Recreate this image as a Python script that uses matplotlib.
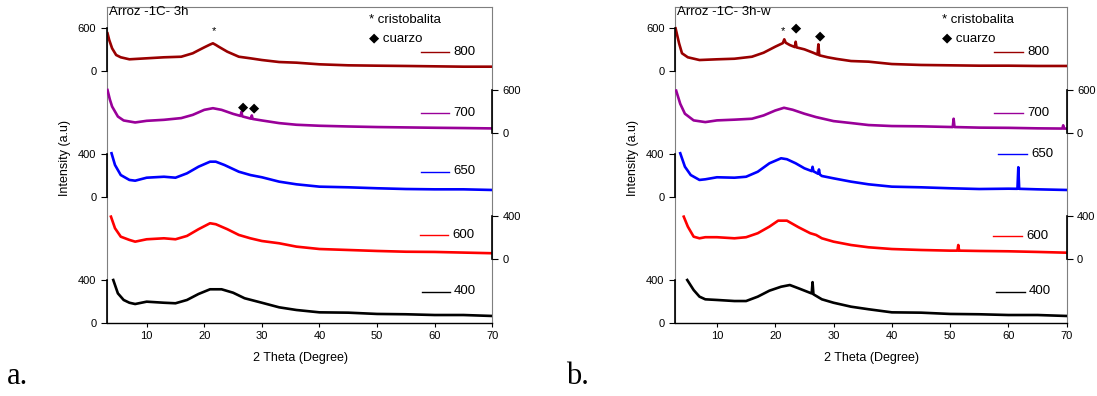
import numpy as np
import matplotlib
matplotlib.use("Agg")
import matplotlib.pyplot as plt
from matplotlib.lines import Line2D

plt.rcParams["font.family"] = ["Liberation Sans", "DejaVu Sans"]

# ---- data (2 theta in degrees, intensity in a.u.) ----
TEMPS = ["800", "700", "650", "600", "400"]
COLORS = ["#990000", "#990099", "#0000FF", "#FF0000", "#000000"]

# panel a: Arroz -1C- 3h
A800_X = [3.2, 3.5, 4.0, 4.7, 5.5, 7, 10, 13, 16, 18, 19, 20, 21, 21.5, 22, 22.5, 24, 26, 28, 30, 33, 36, 40, 45, 50, 55, 60, 65, 70]
A800_Y = [522, 428, 312, 219, 187, 159, 173, 187, 195, 243, 285, 326, 365, 382, 360, 335, 265, 195, 173, 149, 121, 112, 89, 75, 70, 66, 61, 56, 56]
A700_X = [3.2, 3.6, 4, 5, 6, 8, 10, 13, 16, 18, 20, 21.5, 23, 25, 26.3, 26.45, 26.6, 28.1, 28.25, 28.4, 30, 33, 36, 40, 45, 50, 55, 60, 65, 70]
A700_Y = [600, 470, 369, 230, 175, 147, 170, 184, 208, 253, 323, 346, 323, 267, 238, 295, 232, 200, 245, 196, 175, 138, 115, 101, 91, 83, 78, 73, 69, 64]
A650_X = [3.9, 4.5, 5.5, 7, 8, 10, 13, 15, 17, 19, 21, 22, 23.5, 26, 28, 30, 33, 36, 40, 45, 50, 55, 60, 65, 70]
A650_Y = [407, 297, 203, 157, 150, 178, 187, 178, 219, 281, 328, 328, 297, 234, 203, 182, 141, 116, 94, 88, 79, 72, 69, 69, 63]
A600_X = [3.8, 4.5, 5.5, 7, 8, 10, 13, 15, 17, 19, 21, 22, 24, 26, 28, 30, 33, 36, 40, 45, 50, 55, 60, 65, 70]
A600_Y = [394, 287, 209, 179, 163, 185, 194, 185, 216, 278, 333, 324, 278, 225, 194, 169, 148, 117, 95, 86, 77, 70, 68, 62, 56]
A400_X = [4.2, 5, 6, 7, 8, 10, 13, 15, 17, 19, 21, 23, 25, 27, 30, 33, 36, 40, 45, 50, 55, 60, 65, 70]
A400_Y = [400, 275, 213, 187, 175, 197, 187, 182, 213, 269, 313, 313, 281, 229, 187, 144, 119, 97, 94, 82, 79, 72, 72, 63]

# panel b: Arroz -1C- 3h-w
B800_X = [2.9, 3.5, 4.0, 5, 7, 10, 13, 16, 18, 20, 21.3, 21.55, 21.8, 22.5, 23.35, 23.5, 23.65, 25, 26.5, 27.25, 27.4, 27.55, 29, 30.5, 33, 36, 40, 45, 50, 55, 60, 65, 70]
B800_Y = [591, 382, 243, 187, 149, 159, 167, 195, 251, 335, 385, 438, 390, 358, 330, 404, 325, 298, 251, 225, 368, 215, 187, 165, 135, 126, 93, 80, 75, 70, 70, 66, 66]
B700_X = [3.0, 3.7, 4.5, 6, 8, 10, 13, 16, 18, 20, 21.5, 23, 25, 27, 30, 33, 36, 40, 45, 50.45, 50.6, 50.75, 55, 60, 65, 69.25, 69.4, 69.55, 70]
B700_Y = [591, 407, 269, 176, 152, 176, 186, 199, 245, 314, 352, 324, 269, 222, 166, 139, 111, 97, 93, 83, 199, 83, 75, 72, 65, 62, 107, 62, 61]
B650_X = [3.7, 4.5, 5.5, 7, 8, 10, 13, 15, 17, 19, 21, 22, 23.5, 25, 26.25, 26.4, 26.55, 27.35, 27.5, 27.65, 28, 30, 33, 36, 40, 45, 50, 55, 60, 61.55, 61.7, 61.85, 65, 70]
B650_Y = [407, 281, 203, 157, 163, 182, 178, 187, 234, 313, 360, 351, 313, 266, 240, 280, 238, 215, 255, 208, 194, 172, 141, 116, 94, 88, 79, 72, 75, 74, 276, 74, 69, 63]
B600_X = [4.3, 5, 6, 7, 8, 10, 13, 15, 17, 19, 20.5, 22, 24, 26, 27, 28, 30, 33, 36, 40, 45, 50, 51.25, 51.4, 51.55, 55, 60, 65, 70]
B600_Y = [394, 302, 209, 194, 204, 204, 194, 204, 241, 302, 357, 357, 296, 241, 225, 194, 163, 132, 111, 95, 86, 80, 80, 132, 80, 77, 74, 68, 61]
B400_X = [4.9, 6, 7, 8, 10, 13, 15, 17, 19, 21, 22.5, 24, 26.25, 26.4, 26.55, 28, 30, 33, 36, 40, 45, 50, 55, 60, 65, 70]
B400_Y = [400, 306, 244, 219, 213, 203, 203, 244, 300, 337, 353, 322, 274, 380, 266, 219, 187, 150, 126, 97, 94, 82, 79, 72, 72, 63]

X_TICKS = [10, 20, 30, 40, 50, 60, 70]
TOP_TICK = [600, 600, 400, 400, 400]

# ---- layout (figure pixels) ----
W, H = 1097, 396
BOX_TOP, BOX_BOT = 7.3, 323.0
LAYER_ZERO_PX = [70.7, 133.0, 196.7, 259.3, 322.7]
LAYER_TOP_PX = [27.7, 90.0, 154.0, 216.0, 280.0]
SIDES = ["left", "right", "left", "right", "left"]


def fx(px):
    return px / W


def fy(py):
    return 1 - py / H


def draw_panel(fig, left, right, xmin, series, title, tag, legend_px, notes):
    rect = [fx(left), fy(BOX_BOT), (right - left) / W, (BOX_BOT - BOX_TOP) / H]
    base = fig.add_axes(rect)
    base.set_xlim(xmin, 70)
    base.set_ylim(0, 1)
    base.set_yticks([])
    base.set_xticks(X_TICKS)
    base.tick_params(axis="x", direction="out", length=3, width=0.8, labelsize=8, pad=2.5)
    for s in ["top", "left", "right"]:
        base.spines[s].set_color("#7f7f7f")
        base.spines[s].set_linewidth(0.8)
    base.spines["bottom"].set_color("black")
    base.spines["bottom"].set_linewidth(1.0)

    for i, (xs, ys) in enumerate(series):
        ax = fig.add_axes(rect, sharex=base)
        ax.patch.set_visible(False)
        zero, top = LAYER_ZERO_PX[i], LAYER_TOP_PX[i]
        ppu = (zero - top) / TOP_TICK[i]
        ax.set_ylim(-(BOX_BOT - zero) / ppu, (zero - BOX_TOP) / ppu)
        ax.plot(xs, ys, color=COLORS[i], lw=1.9)
        side = SIDES[i]
        for s in ["top", "bottom", "left", "right"]:
            ax.spines[s].set_visible(s == side)
        ax.spines[side].set_bounds(0, TOP_TICK[i])
        ax.spines[side].set_linewidth(1.2)
        ax.spines[side].set_color("black")
        ax.yaxis.set_ticks_position(side)
        ax.set_yticks([0, TOP_TICK[i]])
        ax.tick_params(axis="y", direction="out", length=4, width=0.8, labelsize=8)
        ax.tick_params(axis="x", bottom=False, labelbottom=False)

        lx1, lx2, ly = legend_px[i]
        fig.add_artist(Line2D([fx(lx1), fx(lx2)], [fy(ly), fy(ly)],
                              transform=fig.transFigure, color=COLORS[i], lw=1.0))
        fig.text(fx(lx2 + 4), fy(ly), TEMPS[i], ha="left", va="center", fontsize=9.5)

    fig.text(fx(left + 2), fy(6.0), title, ha="left", va="top", fontsize=9.5)
    fig.text(fx(left - 42), fy(158), "Intensity (a.u)", rotation=90,
             ha="center", va="center", fontsize=9)
    fig.text(fx((left + right) / 2 + 1), fy(358), "2 Theta (Degree)",
             ha="center", va="center", fontsize=9)
    fig.text(fx(notes["leg_x"]), fy(20), "* cristobalita", ha="left", va="center", fontsize=9.5)
    fig.text(fx(notes["leg_x"]), fy(38), "\u25c6 cuarzo", ha="left", va="center", fontsize=9.5)
    for (px, py) in notes["stars"]:
        fig.text(fx(px), fy(py), "*", ha="center", va="center", fontsize=8)
    for (px, py) in notes["diamonds"]:
        fig.text(fx(px), fy(py), "\u25c6", ha="center", va="center", fontsize=9.5)
    fig.text(fx(tag[1]), fy(376), tag[0], ha="center", va="center",
             fontsize=22, family="Liberation Serif")


fig = plt.figure(figsize=(W / 100, H / 100), dpi=100)

series_a = [(A800_X, A800_Y), (A700_X, A700_Y), (A650_X, A650_Y), (A600_X, A600_Y), (A400_X, A400_Y)]
series_b = [(B800_X, B800_Y), (B700_X, B700_Y), (B650_X, B650_Y), (B600_X, B600_Y), (B400_X, B400_Y)]

draw_panel(fig, 106.7, 492.3, 3.06, series_a, "Arroz -1C- 3h", ("a.", 17),
           [(421, 449, 52), (421, 449, 112.5), (421, 449, 171.5), (420, 448, 235), (422, 450, 291.5)],
           dict(leg_x=369, stars=[(214, 31)], diamonds=[(243, 107), (254, 108)]))
draw_panel(fig, 675.0, 1066.7, 2.8, series_b, "Arroz -1C- 3h-w", ("b.", 577),
           [(994, 1023, 52), (994, 1023, 112.5), (998, 1027, 154), (993, 1022, 236), (996, 1025, 291.5)],
           dict(leg_x=942, stars=[(783, 31)], diamonds=[(796, 28), (820, 36)]))

fig.savefig("out.png", dpi=100)
